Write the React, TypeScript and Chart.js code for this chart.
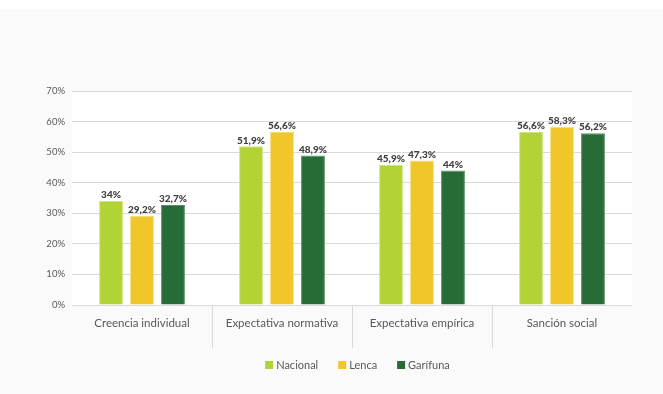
import React, { useEffect, useRef } from "react";
import { Chart, registerables } from "chart.js";

Chart.register(...registerables);

const categories = ["Creencia individual", "Expectativa normativa", "Expectativa empírica", "Sanción social"];
const seriesNames = ["Nacional", "Lenca", "Garífuna"];
const nacional = [34, 51.9, 45.9, 56.6];
const lenca = [29.2, 56.6, 47.3, 58.3];
const garifuna = [32.7, 48.9, 44, 56.2];
const colors = ["#b2d235", "#f0c62a", "#276b37"];
const borderColors = ["#cfe47f", "#f6da77", "#5a8c64"];
const yTicks = [0, 10, 20, 30, 40, 50, 60, 70];

const FONT = "Lato, 'Open Sans', sans-serif";
const TICK_LEN = 43;

const fmt = (v: number) => String(v).replace(".", ",") + "%";

const bgPlugin = {
  id: "bg",
  beforeDraw(chart: any) {
    const { ctx, chartArea, width, height } = chart;
    ctx.save();
    ctx.fillStyle = "#fafafa";
    ctx.fillRect(0, 0, width, height);
    ctx.fillStyle = "#ffffff";
    ctx.fillRect(0, 0, width, 9);
    ctx.fillRect(chartArea.left, chartArea.top, chartArea.right - chartArea.left, chartArea.bottom - chartArea.top);
    ctx.restore();
  },
};

const dividerPlugin = {
  id: "dividers",
  afterDraw(chart: any) {
    const { ctx, chartArea } = chart;
    const xs = chart.scales.x;
    ctx.save();
    ctx.strokeStyle = "#d9d9d9";
    ctx.lineWidth = 1;
    for (let i = 1; i < categories.length; i++) {
      const x = Math.round((xs.getPixelForValue(i - 1) + xs.getPixelForValue(i)) / 2) + 0.5;
      ctx.beginPath();
      ctx.moveTo(x, chartArea.bottom);
      ctx.lineTo(x, chartArea.bottom + TICK_LEN);
      ctx.stroke();
    }
    ctx.restore();
  },
};

const labelPlugin = {
  id: "valueLabels",
  afterDatasetsDraw(chart: any) {
    const { ctx } = chart;
    ctx.save();
    ctx.font = `900 10px ${FONT}`;
    ctx.fillStyle = "#404040";
    ctx.textAlign = "center";
    ctx.textBaseline = "bottom";
    chart.data.datasets.forEach((ds: any, i: number) => {
      const meta = chart.getDatasetMeta(i);
      meta.data.forEach((el: any, j: number) => {
        ctx.fillText(fmt(ds.data[j]), el.x, el.y - 1);
      });
    });
    ctx.restore();
  },
};

const legendPlugin = {
  id: "customLegend",
  afterDraw(chart: any) {
    const { ctx } = chart;
    ctx.save();
    ctx.font = `11px ${FONT}`;
    ctx.textBaseline = "middle";
    const box = 8, gap = 3, spacing = 20;
    const items = chart.data.datasets.map((ds: any) => ({
      label: ds.label,
      color: ds.backgroundColor,
      w: box + gap + ctx.measureText(ds.label).width,
    }));
    const total = items.reduce((s: number, it: any) => s + it.w, 0) + spacing * (items.length - 1);
    let x = 357.5 - total / 2;
    const y = 365;
    items.forEach((it: any) => {
      ctx.fillStyle = it.color;
      ctx.fillRect(x, y - box / 2, box, box);
      ctx.fillStyle = "#595959";
      ctx.fillText(it.label, x + box + gap, y);
      x += it.w + spacing;
    });
    ctx.restore();
  },
};

export default function App() {
  const ref = useRef<HTMLCanvasElement>(null);
  useEffect(() => {
    document.body.style.margin = "0";
    document.body.style.background = "#fafafa";
    const series = [nacional, lenca, garifuna];
    const chart = new Chart(ref.current!, {
      type: "bar",
      data: {
        labels: categories,
        datasets: series.map((d, i) => ({
          label: seriesNames[i],
          data: d,
          backgroundColor: colors[i],
          borderColor: borderColors[i],
          borderWidth: 1,
          categoryPercentage: 0.664,
          barPercentage: 0.77,
        })),
      },
      options: {
        responsive: false,
        animation: false,
        layout: { padding: { top: 91, right: 31, left: 0, bottom: 0 } },
        plugins: { legend: { display: false }, tooltip: { enabled: false } },
        scales: {
          x: {
            afterFit(scale: any) {
              scale.height = 89;
            },
            border: { display: true, color: "#d9d9d9", width: 1 },
            grid: {
              offset: true,
              drawOnChartArea: false,
              drawTicks: true,
              tickLength: TICK_LEN,
              lineWidth: 0,
              color: "rgba(0,0,0,0)",
            },
            ticks: {
              padding: -32,
              color: "#595959",
              font: { family: FONT, size: 11.5 },
              maxRotation: 0,
            },
          },
          y: {
            min: 0,
            max: 70,
            afterFit(scale: any) {
              scale.width = 72;
            },
            afterBuildTicks(scale: any) {
              scale.ticks = yTicks.map((v) => ({ value: v }));
            },
            border: { display: false },
            grid: { color: "#d9d9d9", drawTicks: false },
            ticks: {
              padding: 7,
              color: "#595959",
              font: { family: FONT, size: 9.5 },
              callback: (v: any) => v + "%",
            },
          },
        },
      },
      plugins: [bgPlugin, labelPlugin, dividerPlugin, legendPlugin],
    });
    return () => chart.destroy();
  }, []);
  return <canvas ref={ref} width={663} height={394} style={{ display: "block" }} />;
}
